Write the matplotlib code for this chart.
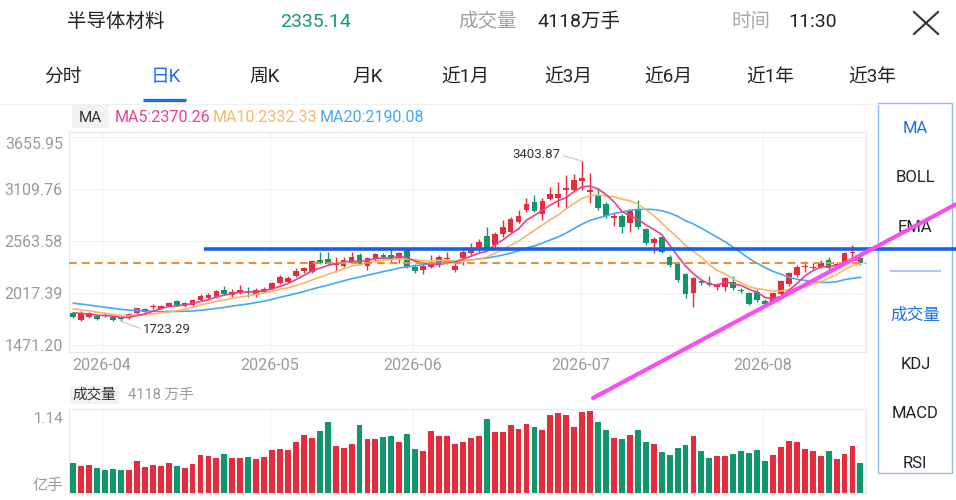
import matplotlib
matplotlib.use('Agg')
import matplotlib.pyplot as plt
from matplotlib.lines import Line2D
from matplotlib.patches import Rectangle
import numpy as np
import pandas as pd

plt.rcParams['font.family'] = ['Roboto', 'Noto Sans CJK SC', 'DejaVu Sans']

# ---------------- data ----------------
title = '半导体材料'
last_price = 2335.14
header_volume = '4118万手'
header_time = '11:30'
tabs = ['分时', '日K', '周K', '月K', '近1月', '近3月', '近6月', '近1年', '近3年']
active_tab = '日K'
ma_legend = ['MA5:2370.26', 'MA10:2332.33', 'MA20:2190.08']
side_items = ['MA', 'BOLL', 'EMA', '成交量', 'KDJ', 'MACD', 'RSI']
side_active = ['MA', '成交量']

month_labels = ['2026-04', '2026-05', '2026-06', '2026-07', '2026-08']
price_ticks = [3655.95, 3109.76, 2563.58, 2017.39, 1471.20]
price_labels = ['3655.95', '3109.76', '2563.58', '2017.39', '1471.20']
vol_max_label = '1.14'
vol_unit = '亿手'

opens = [1806.0, 1736.0, 1771.0, 1781.5, 1792.0, 1771.0, 1760.5, 1753.5, 1806.0, 1820.0,
         1869.1, 1855.1, 1883.1, 1935.6, 1883.1, 1897.1, 1942.6, 1970.6, 1977.6, 2054.6,
         1995.1, 2016.1, 2037.1, 1998.6, 2033.6, 2065.1, 2128.1, 2138.6, 2194.6, 2247.1,
         2240.1, 2366.2, 2373.2, 2310.1, 2303.1, 2338.1, 2422.2, 2303.1, 2376.7, 2418.7,
         2418.7, 2373.2, 2471.2, 2296.1, 2261.1, 2296.1, 2324.1, 2373.2, 2261.1, 2383.7,
         2436.2, 2471.2, 2621.7, 2523.7, 2639.2, 2663.7, 2768.7, 2891.3, 2971.8, 2849.2,
         3006.8, 3013.8, 3101.3, 3101.3, 3199.3, 3083.8, 3048.8, 2954.3, 2803.7, 2828.2,
         2751.2, 2891.3, 2688.2, 2541.2, 2611.2, 2401.2, 2324.1, 2219.1, 2023.1, 2145.6,
         2128.1, 2086.1, 2086.1, 2138.6, 2051.1, 2023.1, 2033.6, 1939.1, 1928.6, 2009.1,
         2114.1, 2208.6, 2289.1, 2278.6, 2296.1, 2366.2, 2303.1, 2338.1, 2436.2, 2383.7]
highs = [1823.5, 1827.0, 1816.5, 1792.0, 1809.5, 1781.5, 1774.5, 1809.5, 1865.6, 1865.6,
         1904.1, 1897.1, 1928.6, 1946.1, 1925.1, 1956.6, 2009.1, 2023.1, 2051.1, 2096.6,
         2058.1, 2100.1, 2086.1, 2075.6, 2079.1, 2135.1, 2208.6, 2198.1, 2278.6, 2296.1,
         2366.2, 2446.7, 2446.7, 2401.2, 2394.2, 2446.7, 2436.2, 2401.2, 2443.2, 2443.2,
         2499.2, 2453.7, 2488.7, 2324.1, 2331.1, 2418.7, 2418.7, 2453.7, 2331.1, 2471.2,
         2541.2, 2583.2, 2709.2, 2656.7, 2786.2, 2821.2, 2891.3, 3013.8, 3048.8, 3013.8,
         3136.3, 3188.8, 3258.8, 3265.8, 3403.87, 3276.3, 3118.8, 2978.8, 2856.3, 2849.2,
         2891.3, 2996.3, 2698.7, 2611.2, 2618.2, 2418.7, 2331.1, 2233.1, 2184.1, 2163.1,
         2198.1, 2121.1, 2191.1, 2198.1, 2068.6, 2033.6, 2058.1, 1953.1, 2033.6, 2156.1,
         2243.6, 2310.1, 2359.2, 2331.1, 2366.2, 2401.2, 2348.6, 2450.2, 2523.7, 2453.7]
lows = [1753.5, 1729.0, 1760.5, 1739.5, 1767.5, 1729.0, 1723.29, 1746.5, 1799.0, 1813.0,
        1851.6, 1848.0, 1876.1, 1883.1, 1872.6, 1886.6, 1932.1, 1960.1, 1967.1, 1995.1,
        1981.1, 2005.6, 1981.1, 1981.1, 2023.1, 2054.6, 2117.6, 2128.1, 2184.1, 2226.1,
        2226.1, 2324.1, 2310.1, 2243.6, 2292.6, 2331.1, 2310.1, 2261.1, 2348.6, 2366.2,
        2348.6, 2338.1, 2278.6, 2226.1, 2219.1, 2278.6, 2296.1, 2324.1, 2240.1, 2313.6,
        2418.7, 2453.7, 2471.2, 2488.7, 2611.2, 2646.2, 2751.2, 2873.8, 2873.8, 2786.2,
        2996.3, 2926.3, 2908.8, 3083.8, 3101.3, 2961.3, 2891.3, 2803.7, 2723.2, 2646.2,
        2663.7, 2688.2, 2523.7, 2436.2, 2436.2, 2296.1, 2138.6, 1963.6, 1876.1, 2103.6,
        2093.1, 2051.1, 2044.1, 2051.1, 2023.1, 1893.6, 1928.6, 1886.6, 1918.1, 1998.6,
        2096.6, 2191.1, 2243.6, 2261.1, 2278.6, 2261.1, 2285.6, 2331.1, 2401.2, 2313.6]
closes = [1764.0, 1813.0, 1806.0, 1746.5, 1781.5, 1736.0, 1746.5, 1799.0, 1858.6, 1851.6,
          1879.6, 1883.1, 1914.6, 1890.1, 1911.1, 1946.1, 1991.6, 2002.1, 2040.6, 2005.6,
          2033.6, 2047.6, 2026.6, 2051.1, 2061.6, 2121.1, 2184.1, 2180.6, 2250.6, 2282.1,
          2352.2, 2338.1, 2324.1, 2338.1, 2366.2, 2401.2, 2324.1, 2383.7, 2429.2, 2401.2,
          2383.7, 2436.2, 2296.1, 2254.1, 2303.1, 2331.1, 2401.2, 2387.2, 2303.1, 2453.7,
          2478.2, 2558.7, 2488.7, 2639.2, 2709.2, 2793.2, 2828.2, 2954.3, 2884.3, 2989.3,
          3055.8, 3059.3, 3118.8, 3206.3, 3230.8, 3094.3, 2908.8, 2828.2, 2828.2, 2716.2,
          2884.3, 2709.2, 2541.2, 2583.2, 2453.7, 2313.6, 2156.1, 2009.1, 2173.6, 2121.1,
          2103.6, 2103.6, 2173.6, 2068.6, 2040.6, 1904.1, 1946.1, 1904.1, 2016.1, 2145.6,
          2226.1, 2296.1, 2303.1, 2296.1, 2331.1, 2278.6, 2320.6, 2436.2, 2453.7, 2335.14]
# volume in 亿手
volumes = [0.416, 0.366, 0.385, 0.348, 0.321, 0.326, 0.317, 0.321, 0.443, 0.357,
           0.380, 0.366, 0.407, 0.375, 0.344, 0.403, 0.516, 0.502, 0.475, 0.538,
           0.484, 0.484, 0.489, 0.470, 0.498, 0.588, 0.602, 0.593, 0.701, 0.796,
           0.755, 0.851, 0.964, 0.638, 0.620, 0.670, 0.932, 0.742, 0.733, 0.765,
           0.778, 0.701, 0.801, 0.606, 0.570, 0.851, 0.774, 0.783, 0.665, 0.692,
           0.746, 0.783, 1.004, 0.828, 0.837, 0.923, 0.873, 0.946, 0.905, 0.855,
           1.068, 1.086, 1.059, 0.905, 1.104, 1.117, 0.973, 0.860, 0.755, 0.733,
           0.796, 0.860, 0.692, 0.665, 0.556, 0.520, 0.615, 0.651, 0.774, 0.579,
           0.480, 0.502, 0.511, 0.538, 0.575, 0.543, 0.584, 0.443, 0.520, 0.633,
           0.715, 0.697, 0.602, 0.570, 0.502, 0.570, 0.461, 0.534, 0.647, 0.4118]
# closes of the sessions before the visible window (only felt through the MA lines)
prior_closes = [2010, 2000, 1985, 1990, 1975, 1960, 1965, 1950, 1940, 1930,
                1925, 1910, 1895, 1880, 1870, 1850, 1830, 1815, 1800]

# hand-drawn overlay lines (data coordinates)
support_level = 2481.7
trend_start = (65.37, 916.9)
trend_end = (111.03, 2952.2)

# ---------------- layout helpers ----------------
W, H = 956, 500
def fx(px): return px / W
def fy(py): return 1 - py / H

RED = '#e52c3c'
GREEN = '#11956b'
BLUE_UI = '#1a6fe6'
GRID = '#f1f1f1'
SPINE = '#e9e9e9'
LABEL = '#9a9a9a'
C_MA5, C_MA10, C_MA20 = '#ea3f8d', '#f7b866', '#46a8f4'

fig = plt.figure(figsize=(W / 100, H / 100), dpi=100)
fig.patch.set_facecolor('white')

month_pos = [3.6, 24.7, 42.7, 63.8, 86.7]
xlim = (-0.54, 99.7)

ax = fig.add_axes([fx(69), fy(352), fx(866) - fx(69), fy(132) - fy(352)])
axv = fig.add_axes([fx(69), fy(493.3), fx(866) - fx(69), fy(409.3) - fy(493.3)])

n = len(closes)
x = np.arange(n)
o = np.array(opens); c = np.array(closes); hi = np.array(highs); lo = np.array(lows)
up = c >= o
cols = np.where(up, RED, GREEN)

# ---- price panel ----
ax.set_xlim(*xlim)
ax.set_ylim(1400, 3710)
for s in ax.spines.values():
    s.set_color(SPINE); s.set_linewidth(0.8)
ax.set_yticks(price_ticks)
ax.set_yticklabels(price_labels)
ax.set_xticks(month_pos)
ax.set_xticklabels(month_labels)
ax.grid(True, color=GRID, lw=0.8)
ax.set_axisbelow(True)
ax.tick_params(length=0, labelsize=11.5, colors=LABEL, pad=4.5)
for lab in ax.get_yticklabels():
    if lab.get_text() == price_labels[0]:
        lab.set_va('top')

ax.vlines(x, lo, hi, colors=cols, lw=1.0, zorder=2)
body_h = np.maximum(np.abs(c - o), 12)
body_b = np.minimum(o, c)
ax.bar(x, body_h, bottom=body_b, width=0.72, color=cols, zorder=3, linewidth=0)

series = pd.Series(prior_closes + closes, dtype=float)
k = len(prior_closes)
for w, col in [(20, C_MA20), (10, C_MA10), (5, C_MA5)]:
    ma = series.rolling(w).mean().iloc[k:].to_numpy()
    ax.plot(x, ma, color=col, lw=1.2, zorder=4)

ax.axhline(last_price, color='#f28a2e', lw=1.4, ls=(0, (4, 2.6)), zorder=5)

i_hi = int(np.argmax(hi)); i_lo = int(np.argmin(lo))
ax.annotate(f'{hi[i_hi]:.2f}', xy=(i_hi, hi[i_hi]), xytext=(-15.5, 4.5),
            textcoords='offset points', ha='right', va='center', size=9.5, color='#333333',
            arrowprops=dict(arrowstyle='-', color='#c8c8c8', lw=0.8, shrinkA=0, shrinkB=0,
                            relpos=(1, 0.5)), zorder=6)
ax.annotate(f'{lo[i_lo]:.2f}', xy=(i_lo, lo[i_lo]), xytext=(15.5, -5.8),
            textcoords='offset points', ha='left', va='center', size=9.5, color='#333333',
            arrowprops=dict(arrowstyle='-', color='#c8c8c8', lw=0.8, shrinkA=0, shrinkB=0,
                            relpos=(0, 0.5)), zorder=6)

# ---- volume panel ----
axv.set_xlim(*xlim)
axv.set_ylim(0, 1.14)
for s in axv.spines.values():
    s.set_color(SPINE); s.set_linewidth(0.8)
axv.set_xticks(month_pos)
axv.set_xticklabels([])
axv.set_yticks([])
axv.grid(True, axis='x', color=GRID, lw=0.8)
axv.set_axisbelow(True)
axv.tick_params(length=0)
axv.bar(x, volumes, width=0.74, color=cols, linewidth=0, zorder=3)

fig.text(fx(63), fy(419), vol_max_label, ha='right', va='center', size=11, color=LABEL)
fig.text(fx(63), fy(486), vol_unit, ha='right', va='center', size=11, color=LABEL)

# ---- header ----
hy = fy(22)
fig.text(fx(67), hy, title, ha='left', va='center', size=14, color='#222222')
fig.text(fx(280), hy, f'{last_price:.2f}', ha='left', va='center', size=14, color='#16996a')
fig.text(fx(458), hy, '成交量', ha='left', va='center', size=14, color='#a0a0a0')
fig.text(fx(537), hy, header_volume, ha='left', va='center', size=14, color='#222222')
fig.text(fx(731), hy, '时间', ha='left', va='center', size=14, color='#a8a8a8')
fig.text(fx(788), hy, header_time, ha='left', va='center', size=14, color='#222222')
fig.add_artist(Line2D([fx(914), fx(938)], [fy(12), fy(34)], transform=fig.transFigure,
                      color='#333333', lw=1.5))
fig.add_artist(Line2D([fx(914), fx(938)], [fy(34), fy(12)], transform=fig.transFigure,
                      color='#333333', lw=1.5))

tab_x = [63, 166, 265, 368, 465, 568, 668, 770, 872]
for t, tx in zip(tabs, tab_x):
    fig.text(fx(tx), fy(77), t, ha='center', va='center', size=13.5,
             color=BLUE_UI if t == active_tab else '#222222')
fig.add_artist(Line2D([fx(143), fx(186)], [fy(100), fy(100)], transform=fig.transFigure,
                      color=BLUE_UI, lw=2.4, solid_capstyle='butt'))
fig.add_artist(Line2D([0, fx(878)], [fy(104), fy(104)], transform=fig.transFigure,
                      color='#f0f0f0', lw=1))

# ---- MA legend row ----
fig.add_artist(Rectangle((fx(72), fy(128)), fx(37), 23 / H, transform=fig.transFigure,
                         facecolor='#f2f2f2', edgecolor='none'))
fig.text(fx(90.5), fy(117.7), 'MA', ha='center', va='center', size=11, color='#333333')
for t, tx, col in zip(ma_legend, [115, 213, 320], [C_MA5, C_MA10, C_MA20]):
    fig.text(fx(tx), fy(117.7), t, ha='left', va='center', size=11.5, color=col)

# ---- volume legend ----
fig.add_artist(Rectangle((fx(70), fy(404)), fx(49), 18 / H, transform=fig.transFigure,
                         facecolor='#f2f2f2', edgecolor='none'))
fig.text(fx(94.5), fy(395), '成交量', ha='center', va='center', size=10.5, color='#333333')
fig.text(fx(128), fy(395), '4118 万手', ha='left', va='center', size=10.5, color=LABEL)

# ---- right indicator panel ----
fig.add_artist(Rectangle((fx(878.3), fy(473)), fx(952.3 - 878.3), (473 - 103.3) / H,
                         transform=fig.transFigure, facecolor='none', edgecolor='#8fb8f5', lw=1))
side_y = [128.3, 177.7, 227.7, 315, 364.3, 413.3, 463.3]
for t, sy in zip(side_items, side_y):
    fig.text(fx(915.3), fy(sy), t, ha='center', va='center', size=12,
             color=BLUE_UI if t in side_active else '#222222')
fig.add_artist(Line2D([fx(890.7), fx(940)], [fy(270.7), fy(270.7)], transform=fig.transFigure,
                      color='#a9c8f7', lw=1.5))

# ---- hand-drawn overlay lines ----
fig.add_artist(Line2D([16.4, 111.1], [support_level, support_level], transform=ax.transData,
                      color='#1b5fe3', lw=2.6, zorder=10, solid_capstyle='butt'))
fig.add_artist(Line2D([trend_start[0], trend_end[0]], [trend_start[1], trend_end[1]],
                      transform=ax.transData, color='#f550ef', lw=3.0, zorder=11,
                      solid_capstyle='round'))

fig.savefig('out.png', dpi=100)
